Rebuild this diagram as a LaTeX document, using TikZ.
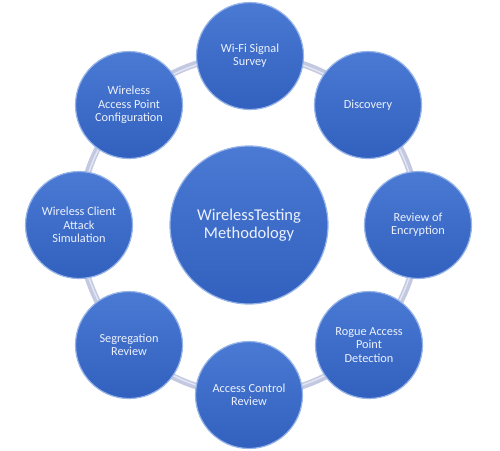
\documentclass[tikz,border=0pt]{standalone}
\usepackage{fontspec}
\setmainfont{Carlito}
\definecolor{ringc}{RGB}{196,201,226}
\definecolor{ringhi}{RGB}{226,229,242}
\definecolor{balltop}{RGB}{74,122,212}
\definecolor{ballbot}{RGB}{50,96,190}
\definecolor{ballrim}{RGB}{150,180,232}
\definecolor{txtc}{RGB}{236,241,252}
\begin{document}
\begin{tikzpicture}[x=1pt,y=-1pt,
  ball/.style={circle,minimum size=107pt,inner sep=0pt,
    top color=balltop,bottom color=ballbot,
    draw=ballrim,line width=1.2pt,
    text=txtc,align=center,font=\fontsize{12.3}{13.3}\selectfont},
  bigball/.style={ball,minimum size=158pt,font=\fontsize{16.5}{18}\selectfont}]
\useasboundingbox (0,0) rectangle (500,450);
\fill[white] (0,0) rectangle (500,450);
\coordinate (o) at (249,225);
\draw[ringc,line width=6.5pt] (o) circle[radius=169.5];
\draw[ringhi,line width=1.5pt] (o) circle[radius=168.5];
\node[bigball] (c) at (o) {WirelessTesting\\Methodology};
\node[ball] (n1) at (250,56) {Wi-Fi Signal\\Survey};
\node[ball] (n2) at (368,105) {Discovery};
\node[ball] (n3) at (418,225) {Review of\\Encryption};
\node[ball] (n4) at (369,345) {Rogue Access\\Point\\Detection};
\node[ball] (n5) at (249,395) {Access Control\\Review};
\node[ball] (n6) at (129,345) {Segregation\\Review};
\node[ball] (n7) at (79,225) {Wireless Client\\Attack\\Simulation};
\node[ball] (n8) at (129,105) {Wireless\\Access Point\\Configuration};
\end{tikzpicture}
\end{document}
